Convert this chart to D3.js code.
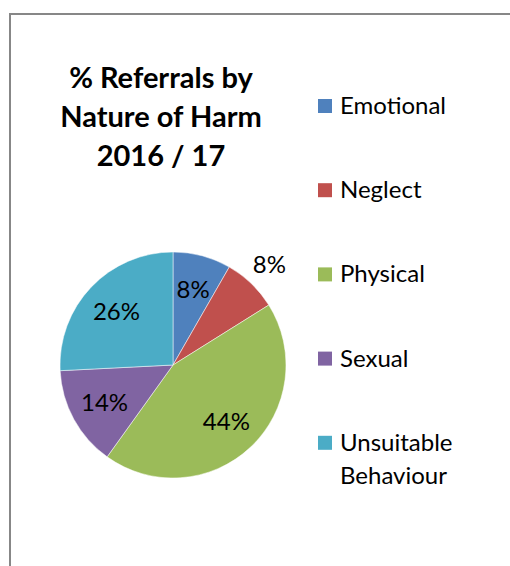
<!DOCTYPE html>
<head>
  <meta charset="utf-8">
  <title>% Referrals by Nature of Harm 2016 / 17</title>
  <style>
    body { margin: 0; background: #fff; }
    text { font-family: Lato, "Open Sans", sans-serif; fill: #000; }
  </style>
</head>
<body>
  <script src="https://cdn.jsdelivr.net/npm/d3@7"></script>
  <script>
    // data
    var categories = ["Emotional", "Neglect", "Physical", "Sexual", "Unsuitable Behaviour"];
    var values = [8.3, 7.8, 43.8, 14.3, 25.8];
    var valueLabels = ["8%", "8%", "44%", "14%", "26%"];
    var titleLines = ["% Referrals by", "Nature of Harm", "2016 / 17"];

    var w = 510, h = 566;
    var cx = 173, cy = 365, radius = 113;

    var color = d3.scaleOrdinal()
      .domain(categories)
      .range(["#4f81bd", "#c0504d", "#9bbb59", "#8064a2", "#4bacc6"]);

    var svg = d3.select("body").append("svg").attr("width", w).attr("height", h);

    // chart area border (runs off the right and bottom)
    svg.append("rect")
      .attr("x", 10).attr("y", 14)
      .attr("width", 540).attr("height", 600)
      .attr("fill", "none")
      .attr("stroke", "#878787")
      .attr("stroke-width", 2);

    // title
    svg.append("text")
      .attr("x", 161).attr("y", 88)
      .attr("text-anchor", "middle")
      .style("font-size", "29px")
      .style("font-weight", "bold")
      .selectAll("tspan")
      .data(titleLines)
      .enter()
      .append("tspan")
      .attr("x", 161)
      .attr("dy", function(d, i) { return i == 0 ? 0 : 39; })
      .text(function(d) { return d; });

    // pie
    var pie = d3.pie().sort(null).value(function(d) { return d; });
    var arcs = pie(values);
    var arc = d3.arc().innerRadius(0).outerRadius(radius);
    var inLabel = d3.arc().innerRadius(78).outerRadius(78);
    var outLabel = d3.arc().innerRadius(139).outerRadius(139);

    var g = svg.append("g").attr("transform", "translate(" + cx + "," + cy + ")");

    g.selectAll("path")
      .data(arcs)
      .enter()
      .append("path")
      .attr("d", arc)
      .attr("fill", function(d, i) { return color(categories[i]); })
      .attr("stroke", "#fff")
      .attr("stroke-width", 0.5);

    // Neglect label sits outside the slice, the rest inside
    g.selectAll(".lbl")
      .data(arcs)
      .enter()
      .append("text")
      .attr("class", "lbl")
      .attr("transform", function(d, i) {
        var p = (i == 1 ? outLabel : inLabel).centroid(d);
        return "translate(" + p[0] + "," + p[1] + ")";
      })
      .attr("text-anchor", "middle")
      .attr("dy", "0.35em")
      .style("font-size", "24px")
      .text(function(d, i) { return valueLabels[i]; });

    // legend
    var legend = svg.append("g").attr("transform", "translate(318,99)");
    var item = legend.selectAll("g")
      .data(categories)
      .enter()
      .append("g")
      .attr("transform", function(d, i) { return "translate(0," + (i * 84.2) + ")"; });

    item.append("rect")
      .attr("width", 14).attr("height", 14)
      .attr("fill", function(d) { return color(d); });

    item.append("text")
      .attr("x", 22).attr("y", 15)
      .style("font-size", "24px")
      .selectAll("tspan")
      .data(function(d) { return d.split(" "); })
      .enter()
      .append("tspan")
      .attr("x", 22)
      .attr("dy", function(d, i) { return i == 0 ? 0 : 33; })
      .text(function(d) { return d; });
  </script>
</body>
